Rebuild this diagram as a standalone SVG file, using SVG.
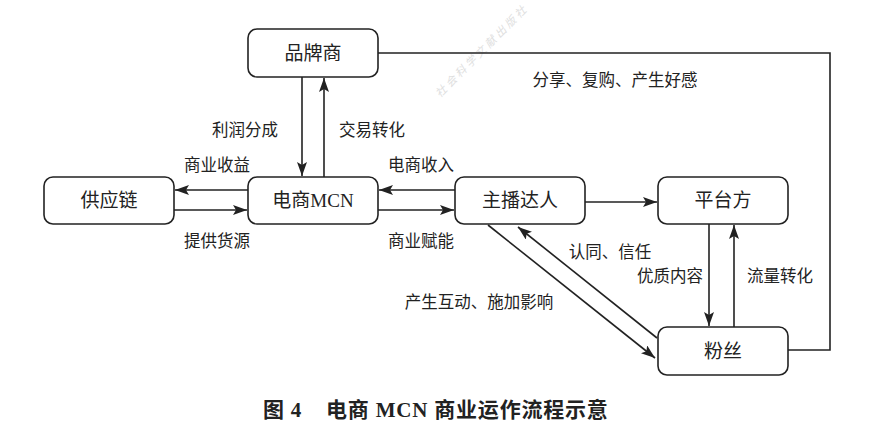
<svg xmlns="http://www.w3.org/2000/svg" width="874" height="429" viewBox="0 0 874 429">
<style>
.box{fill:#fff;stroke:#222;stroke-width:1.6}
.t{font-family:"Liberation Serif","Noto Sans CJK SC",serif;font-size:19px;fill:#222;text-anchor:middle;dominant-baseline:central}
.l{font-family:"Liberation Serif","Noto Sans CJK SC",serif;font-size:16.5px;fill:#222;text-anchor:middle;dominant-baseline:central}
.c{stroke:#222;stroke-width:1.6;fill:none}
.wm{font-family:"Noto Sans CJK SC",sans-serif;font-size:11px;fill:#e0e0e0;letter-spacing:3px;font-style:italic}
.cap{font-family:"Liberation Serif","Noto Sans CJK SC",serif;font-size:21px;font-weight:bold;fill:#222;dominant-baseline:central;letter-spacing:0.8px}
</style>
<defs>
<marker id="a" viewBox="0 0 14 10" refX="14" refY="5" markerWidth="14" markerHeight="10" markerUnits="userSpaceOnUse" orient="auto">
<path d="M0,0 L14,5 L0,10 L3,5 Z" fill="#222"/>
</marker>
</defs>
<rect width="874" height="429" fill="#fff"/>
<text class="wm" transform="translate(440,98) rotate(-45)">社会科学文献出版社</text>
<g id="connectors">
<line class="c" x1="302" y1="77" x2="302" y2="176" marker-end="url(#a)"/>
<line class="c" x1="324" y1="177" x2="324" y2="78" marker-end="url(#a)"/>
<line class="c" x1="248" y1="190" x2="175" y2="190" marker-end="url(#a)"/>
<line class="c" x1="174" y1="210" x2="247" y2="210" marker-end="url(#a)"/>
<line class="c" x1="455" y1="190" x2="379" y2="190" marker-end="url(#a)"/>
<line class="c" x1="378" y1="210" x2="454" y2="210" marker-end="url(#a)"/>
<line class="c" x1="585" y1="202" x2="657" y2="202" marker-end="url(#a)"/>
<line class="c" x1="709" y1="224" x2="709" y2="326" marker-end="url(#a)"/>
<line class="c" x1="734" y1="327" x2="734" y2="225" marker-end="url(#a)"/>
<line class="c" x1="488" y1="225" x2="655" y2="358" marker-end="url(#a)"/>
<line class="c" x1="657" y1="338" x2="518" y2="227" marker-end="url(#a)"/>
<polyline class="c" points="788,350 830,350 830,53 378,53"/>
</g>
<g id="brand"><rect class="box" x="248" y="29" width="130" height="48" rx="9"/><text class="t" x="313" y="53">品牌商</text></g>
<g id="supply"><rect class="box" x="44" y="177" width="130" height="47" rx="9"/><text class="t" x="109" y="200.5">供应链</text></g>
<g id="mcn"><rect class="box" x="248" y="177" width="130" height="47" rx="9"/><text class="t" x="313" y="200.5">电商MCN</text></g>
<g id="anchor"><rect class="box" x="455" y="177" width="130" height="47" rx="9"/><text class="t" x="520" y="200.5">主播达人</text></g>
<g id="platform"><rect class="box" x="658" y="177" width="130" height="47" rx="9"/><text class="t" x="723" y="200.5">平台方</text></g>
<g id="fans"><rect class="box" x="658" y="327" width="130" height="48" rx="9"/><text class="t" x="723" y="351">粉丝</text></g>
<g id="labels">
<text class="l" x="245" y="130">利润分成</text>
<text class="l" x="372" y="130">交易转化</text>
<text class="l" x="217" y="165">商业收益</text>
<text class="l" x="217" y="241">提供货源</text>
<text class="l" x="421" y="165">电商收入</text>
<text class="l" x="421" y="241">商业赋能</text>
<text class="l" x="615" y="80">分享、复购、产生好感</text>
<text class="l" x="610" y="252">认同、信任</text>
<text class="l" x="479" y="302">产生互动、施加影响</text>
<text class="l" x="670" y="276">优质内容</text>
<text class="l" x="780" y="276">流量转化</text>
</g>
<text class="cap" x="263" y="410">图 4</text>
<text class="cap" x="326" y="410">电商 MCN 商业运作流程示意</text>
</svg>
